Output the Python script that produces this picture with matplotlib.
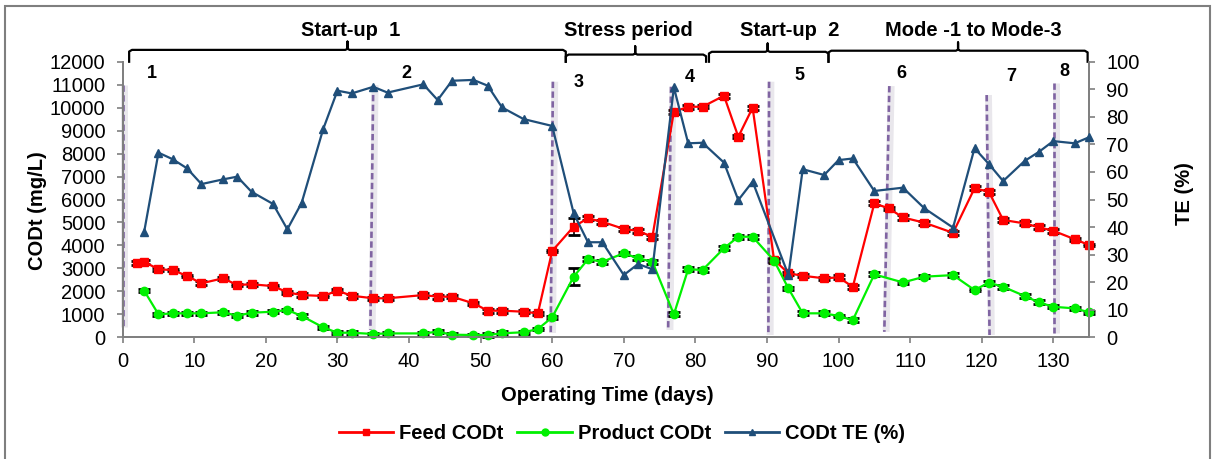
import matplotlib
matplotlib.use('Agg')
import matplotlib.pyplot as plt
from matplotlib.lines import Line2D
from matplotlib.patches import Rectangle
import matplotlib.transforms as mtransforms

plt.rcParams['font.family'] = ['Liberation Sans', 'DejaVu Sans']

# --- données ---
feed_days = [2, 3, 5, 7, 9, 11, 14, 16, 18, 21, 23, 25, 28, 30, 32, 35, 37, 42, 44, 46,
             49, 51, 53, 56, 58, 60, 63, 65, 67, 70, 72, 74, 77, 79, 81, 84, 86, 88, 91, 93,
             95, 98, 100, 102, 105, 107, 109, 112, 116, 119, 121, 123, 126, 128, 130, 133, 135]
feed = [3220, 3290, 2960, 2930, 2670, 2350, 2570, 2280, 2310, 2230, 1960, 1840, 1800, 2030, 1810, 1700, 1700, 1840, 1770, 1770,
        1480, 1160, 1160, 1115, 1045, 3760, 4820, 5180, 5030, 4720, 4630, 4380, 9820, 10040, 10040, 10520, 8730, 10000, 3370, 2790,
        2680, 2570, 2610, 2200, 5830, 5620, 5220, 4990, 4550, 6490, 6340, 5110, 4960, 4790, 4640, 4270, 4020]
feed_err = [90, 80, 60, 60, 60, 90, 60, 60, 60, 60, 60, 90, 60, 60, 90, 60, 60, 90, 90, 60,
            60, 90, 90, 60, 60, 60, 360, 90, 90, 90, 90, 90, 90, 90, 60, 90, 60, 90, 90, 60,
            60, 60, 90, 90, 90, 60, 90, 90, 90, 90, 90, 90, 90, 90, 90, 60, 60]

product_days = [3, 5, 7, 9, 11, 14, 16, 18, 21, 23, 25, 28, 30, 32, 35, 37, 42, 44, 46, 49,
                51, 53, 56, 58, 60, 63, 65, 67, 70, 72, 74, 77, 79, 81, 84, 86, 88, 91, 93, 95,
                98, 100, 102, 105, 109, 112, 116, 119, 121, 123, 126, 128, 130, 133, 135]
product = [2030, 1000, 1045, 1045, 1045, 1090, 940, 1070, 1115, 1190, 930, 435, 200, 200, 145, 170, 170, 245, 115, 100,
           100, 175, 220, 360, 870, 2640, 3400, 3290, 3660, 3440, 3290, 1000, 2970, 2930, 3880, 4380, 4380, 3340, 2130, 1045,
           1045, 930, 750, 2740, 2390, 2640, 2710, 2060, 2380, 2200, 1800, 1520, 1330, 1260, 1090]
product_err = [60, 60, 60, 60, 60, 60, 60, 90, 60, 60, 90, 60, 60, 90, 60, 60, 60, 60, 60, 60,
               90, 90, 60, 60, 60, 360, 90, 90, 60, 90, 90, 90, 90, 90, 90, 90, 90, 90, 60, 90,
               90, 60, 90, 90, 60, 60, 90, 60, 90, 90, 90, 90, 60, 60, 60]

te_days = [3, 5, 7, 9, 11, 14, 16, 18, 21, 23, 25, 28, 30, 32, 35, 37, 42, 44, 46, 49,
           51, 53, 56, 60, 63, 65, 67, 70, 72, 74, 77, 79, 81, 84, 86, 88, 93, 95, 98, 100,
           102, 105, 109, 112, 116, 119, 121, 123, 126, 128, 130, 133, 135]
te = [38.3, 67.0, 64.6, 61.3, 55.6, 57.3, 58.3, 52.8, 48.4, 39.2, 48.8, 75.5, 89.5, 88.5, 90.9, 88.8, 91.8, 86.1, 93.1, 93.4,
      91.3, 83.4, 79.2, 76.7, 45.0, 34.5, 34.5, 22.6, 26.6, 24.7, 90.7, 70.4, 70.6, 63.4, 49.8, 56.5, 22.6, 61.0, 58.9, 64.3,
      64.9, 53.1, 54.3, 46.8, 39.8, 68.6, 62.9, 56.7, 64.0, 67.3, 71.2, 70.4, 72.6]

# limites des phases (lignes pointillées), haut / bas
boundary_top_days = [0, 35.0, 60.1, 76.6, 90.3, 107.1, 120.7, 130.1]
boundary_bot_days = [0, 34.6, 59.8, 76.2, 90.2, 106.4, 121.1, 130.1]
boundary_top = [10980, 10980, 11130, 10910, 11130, 10940, 10550, 11060]
boundary_bot = [450, 320, 190, 320, 100, 240, 100, 200]

phase_labels = ['1', '2', '3', '4', '5', '6', '7', '8']
phase_label_days = [4.1, 39.7, 63.7, 79.2, 94.5, 108.8, 124.1, 131.6]
phase_label_cod = [11490, 11490, 11085, 11320, 11420, 11490, 11345, 11560]

period_names = ['Start-up  1', 'Stress period', 'Start-up  2', 'Mode -1 to Mode-3']
period_start = [0.9, 61.9, 81.9, 98.6]
period_mid = [31.4, 71.6, 90.1, 116.7]
period_end = [61.9, 81.5, 98.6, 134.8]
period_text_days = [31.8, 70.7, 93.2, 118.8]
period_bracket_y = [1.043, 1.026, 1.036, 1.040]

# --- figure ---
fig = plt.figure(figsize=(12.16, 4.59), dpi=100)
ax = fig.add_axes([0.1009, 0.2651, 0.7947, 0.6004])
ax2 = ax.twinx()

fig.patches.append(Rectangle((5 / 1216, -0.05), 1205 / 1216, 1.05 - 6 / 459,
                             transform=fig.transFigure, fill=False,
                             edgecolor='#7f7f7f', lw=1.5))

for x0, x1, y0, y1 in zip(boundary_top_days, boundary_bot_days, boundary_top, boundary_bot):
    ax.plot([x0 + 0.25, x1 + 0.25], [y0, y1], color='#e9e7ec', lw=5, solid_capstyle='butt',
            zorder=1, clip_on=False)
    ax.plot([x0, x1], [y0, y1], color='#8064A2', lw=1.9, dashes=(2.4, 1.3),
            zorder=1.5, clip_on=False)

ax.errorbar(feed_days, feed, yerr=feed_err, color='#FF0000', marker='s', ms=6,
            lw=1.6, ecolor='black', elinewidth=1.2, capsize=4.5, capthick=2, zorder=3,
            clip_on=False)
ax.errorbar(product_days, product, yerr=product_err, color='#00F000', marker='o', ms=6,
            lw=1.6, ecolor='black', elinewidth=1.2, capsize=4.5, capthick=2, zorder=3,
            clip_on=False)
ax2.plot(te_days, te, color='#1F4E79', marker='^', ms=6, lw=1.6, zorder=3, clip_on=False)

for lab, d, c in zip(phase_labels, phase_label_days, phase_label_cod):
    ax.text(d, c, lab, ha='center', va='center', fontsize=13, fontweight='bold')

# accolades des périodes
tr = mtransforms.blended_transform_factory(ax.transData, ax.transAxes)
for name, x0, xm, x1, xt, yl in zip(period_names, period_start, period_mid, period_end,
                                    period_text_days, period_bracket_y):
    ax.plot([x0, x0, x0 + 0.4, xm - 0.3, xm, xm, xm, xm + 0.3, x1 - 0.4, x1, x1],
            [1.0, yl - 0.006, yl, yl, yl + 0.004, yl + 0.03, yl + 0.004, yl, yl, yl - 0.006, 1.0],
            color='black', lw=1.6, transform=tr, clip_on=False)
    ax.text(xt, 1.115, name, transform=tr, ha='center', va='center',
            fontsize=14.5, fontweight='bold')

ax.set_xlim(0, 135)
ax.set_ylim(0, 12000)
ax2.set_ylim(0, 100)
ax.set_xticks(range(0, 131, 10))
ax.set_yticks(range(0, 12001, 1000))
ax2.set_yticks(range(0, 101, 10))

for a in (ax, ax2):
    a.tick_params(direction='out', length=4.5, width=1.2, color='#7f7f7f',
                  labelsize=14.5, pad=8)
    a.spines['top'].set_visible(False)
    for s in ('left', 'right', 'bottom'):
        a.spines[s].set_color('#7f7f7f')
        a.spines[s].set_linewidth(1.3)
ax.tick_params(axis='x', pad=6)

ax.set_xlabel('Operating Time (days)', fontsize=14.5, fontweight='bold')
ax.set_ylabel('CODt (mg/L)', fontsize=14.5, fontweight='bold')
ax2.set_ylabel('TE (%)', fontsize=14.5, fontweight='bold')
ax.xaxis.set_label_coords(0.5017, -0.175)
ax.yaxis.set_label_coords(-0.078, 0.46)
ax2.yaxis.set_label_coords(1.089, 0.52)

handles = [Line2D([], [], color='#FF0000', marker='s', ms=5, lw=2),
           Line2D([], [], color='#00F000', marker='o', ms=5, lw=2),
           Line2D([], [], color='#1F4E79', marker='^', ms=5, lw=2)]
fig.legend(handles, ['Feed CODt', 'Product CODt', 'CODt TE (%)'],
           loc='center', bbox_to_anchor=(0.5115, 0.0545), ncol=3, frameon=False,
           handlelength=2.7, handletextpad=0.3, columnspacing=0.7,
           prop=dict(weight='bold', size=14.5))

fig.savefig('out.png', dpi=100)
